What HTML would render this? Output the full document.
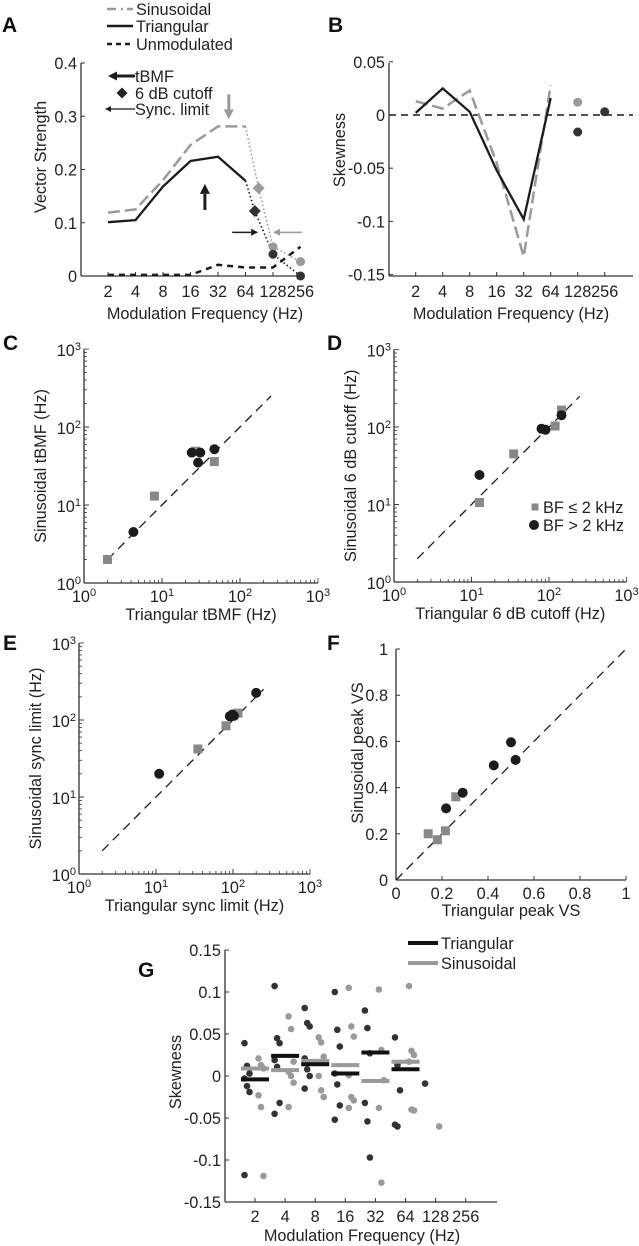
<!DOCTYPE html>
<html><head><meta charset="utf-8"><style>
html,body{margin:0;padding:0;background:#fff;}
svg{display:block;font-family:"Liberation Sans",Arial,sans-serif;}
</style></head><body>
<svg id="fig" width="639" height="1246" viewBox="0 0 639 1246" xmlns="http://www.w3.org/2000/svg"></svg>
<script>
// ---------- Panel A data ----------
const freqsA = [2,4,8,16,32,64,128,256];
const triVS = [0.101,0.105,0.168,0.216,0.224,0.179];
const sinVS = [0.119,0.125,0.180,0.246,0.281,0.281];
const unmodVS = [0.002,0.002,0.002,0.002,0.021,0.016,0.016,0.055];
const triTail = [[64,0.179],[81,0.122],[128,0.041],[256,0.0]];
const sinTail = [[64,0.281],[89,0.165],[128,0.055],[256,0.027]];
const triTBMF = [23,0.218];
const sinTBMF = [42,0.281];
const triSync = 88, sinSync = 128, syncVS = 0.082;
const yTicksA = [0,0.1,0.2,0.3,0.4];
const yTickLabelsA = ['0','0.1','0.2','0.3','0.4'];
const xTickLabels = ['2','4','8','16','32','64','128','256'];
// ---------- Panel B data ----------
const triSkew = [0.002,0.025,0.003,-0.052,-0.098,0.016];
const sinSkew = [0.013,0.006,0.023,-0.045,-0.133,0.028];
const extraSkewF = [128,128,256];
const extraSkewV = [0.012,-0.016,0.003];
const extraSkewGray = [true,false,false];
const yTicksB = [0.05,0,-0.05,-0.1,-0.15];
const yTickLabelsB = ['0.05','0','-0.05','-0.1','-0.15'];
// ---------- Panel C data ----------
const cSqX = [2,8,27,47], cSqY = [2,13,49,36];
const cCiX = [4.3,24,31,29,47], cCiY = [4.5,47,47,35,52];
// ---------- Panel D data ----------
const dSqX = [12.7,35,120,145], dSqY = [10.6,45,103,165];
const dCiX = [12.7,80,90,145], dCiY = [24,95,92,142];
// ---------- Panel E data ----------
const eSqX = [35,81,116], eSqY = [42,84,123];
const eCiX = [11,91,103,98,200], eCiY = [20,112,113,118,225];
// ---------- Panel F data ----------
const fSqX = [0.14,0.18,0.215,0.26], fSqY = [0.20,0.174,0.213,0.36];
const fCiX = [0.218,0.29,0.425,0.50,0.52], fCiY = [0.31,0.378,0.496,0.596,0.52];
const fTicks = [0,0.2,0.4,0.6,0.8,1];
const fTickLabels = ['0','0.2','0.4','0.6','0.8','1'];
// ---------- Panel G data ----------
const gTri = [
 [0.039,0.012,0.003,-0.003,-0.012,-0.019,-0.118],
 [0.107,0.045,0.039,0.019,0.011,-0.032,-0.045],
 [0.081,0.063,0.059,0.021,0.008,0,-0.015],
 [0.1,0.055,0.035,0.003,-0.01,-0.035,-0.052],
 [0.078,0.057,0.027,-0.032,-0.054,-0.097],
 [0.046,0.013,-0.017,-0.058,-0.06],
 [-0.009],
 []
];
const gSin = [
 [0.021,0.013,0.009,-0.023,-0.037,-0.119],
 [0.071,0.056,0.017,0.005,0,-0.008,-0.037],
 [0.046,0.04,0.023,0,-0.017,-0.025],
 [0.105,0.059,0.047,0.001,-0.025,-0.029,-0.038],
 [0.103,0.031,-0.005,-0.038,-0.127],
 [0.107,0.03,0.025,0.017,-0.04,-0.041],
 [-0.06],
 []
];
const gTriMed = [-0.004,0.024,0.014,0.003,0.028,0.008];
const gSinMed = [0.009,0.007,0.018,0.013,-0.006,0.017];
const yTicksG = [0.15,0.1,0.05,0,-0.05,-0.1,-0.15];
const yTickLabelsG = ['0.15','0.1','0.05','0','-0.05','-0.1','-0.15'];

const NS='http://www.w3.org/2000/svg';
const svg=document.getElementById('fig');
const AX='#333', BLK='#1c1c1c', GRY='#9a9a9a', SQ='#888';
const FS=16.3;
function mk(t){return document.createElementNS(NS,t);}
function line(x1,y1,x2,y2,stroke,w,dash,name){
 const e=mk('line');
 e.setAttribute('x1',x1);e.setAttribute('y1',y1);e.setAttribute('x2',x2);e.setAttribute('y2',y2);
 e.setAttribute('stroke',stroke);e.setAttribute('stroke-width',w);
 if(dash)e.setAttribute('stroke-dasharray',dash);
 
 
 svg.appendChild(e);return e;}
function poly(pts,stroke,w,dash,name){
 const e=mk('polyline');
 e.setAttribute('points',pts.map(p=>p[0].toFixed(1)+','+p[1].toFixed(1)).join(' '));
 e.setAttribute('fill','none');e.setAttribute('stroke',stroke);e.setAttribute('stroke-width',w);
 e.setAttribute('stroke-linejoin','miter');
 if(dash)e.setAttribute('stroke-dasharray',dash);
 
 
 svg.appendChild(e);return e;}
function text(x,y,s,size,anchor,name,opts){
 opts=opts||{};
 const e=mk('text');
 e.setAttribute('x',x);e.setAttribute('y',y);e.setAttribute('font-size',size);
 e.setAttribute('text-anchor',anchor);e.setAttribute('fill',opts.fill||'#222');
 if(opts.bold)e.setAttribute('font-weight','bold');
 if(opts.rot)e.setAttribute('transform','rotate(-90 '+x+' '+y+')');
 if(opts.sup){e.textContent=s;const t=mk('tspan');t.setAttribute('font-size',size*0.68);t.setAttribute('dy',-6);t.textContent=opts.sup;e.appendChild(t);}
 else e.textContent=s;
 
 
 svg.appendChild(e);return e;}
function circ(x,y,r,fill,name){
 const e=mk('circle');e.setAttribute('cx',x.toFixed(1));e.setAttribute('cy',y.toFixed(1));e.setAttribute('r',r);e.setAttribute('fill',fill);
 
 
 svg.appendChild(e);return e;}
function square(x,y,s,fill,name){
 const e=mk('rect');e.setAttribute('x',(x-s/2).toFixed(1));e.setAttribute('y',(y-s/2).toFixed(1));e.setAttribute('width',s);e.setAttribute('height',s);e.setAttribute('fill',fill);
 
 
 svg.appendChild(e);return e;}
function diamond(x,y,s,fill,name){
 const e=mk('polygon');
 e.setAttribute('points',[[x,y-s],[x+s,y],[x,y+s],[x-s,y]].map(p=>p[0].toFixed(1)+','+p[1].toFixed(1)).join(' '));
 e.setAttribute('fill',fill);
 
 
 svg.appendChild(e);return e;}
function arrow(x1,y1,x2,y2,color,w,head,name){
 const ang=Math.atan2(y2-y1,x2-x1);
 const bx=x2-head*Math.cos(ang), by=y2-head*Math.sin(ang);
 line(x1,y1,bx,by,color,w,null,name+'-shaft');
 const e=mk('polygon');
 const hw=head*0.5;
 const pts=[[x2,y2],[bx-hw*Math.sin(ang),by+hw*Math.cos(ang)],[bx+hw*Math.sin(ang),by-hw*Math.cos(ang)]];
 e.setAttribute('points',pts.map(p=>p[0].toFixed(1)+','+p[1].toFixed(1)).join(' '));
 e.setAttribute('fill',color);
 
 
 svg.appendChild(e);}

// ===== Panel A =====
const axA={x0:81,x1:303,y0:276,y1:63};
const xA=f=>108+27.5*Math.log2(f/2);
const yA=v=>276-v*(213/0.4);
text(2,32,'A',21,'start','panel-a-label',{bold:true,fill:'#111'});
line(axA.x0,axA.y0,axA.x1,axA.y0,AX,1.3,null,'a-x-axis');
line(axA.x0,axA.y0,axA.x0,axA.y1,AX,1.3,null,'a-y-axis');
yTicksA.forEach((v,i)=>{line(axA.x0,yA(v),axA.x0+4,yA(v),AX,1,null,'a-y-tick');text(77,yA(v)+6,yTickLabelsA[i],FS,'end','a-y-tick-label');});
freqsA.forEach((f,i)=>{line(xA(f),axA.y0,xA(f),axA.y0-4,AX,1,null,'a-x-tick');text(xA(f),297,xTickLabels[i],FS,'middle','a-x-tick-label');});
text(46,157,'Vector Strength',FS,'middle','a-y-axis-title',{rot:true});
text(205,319,'Modulation Frequency (Hz)',FS,'middle','a-x-axis-title');
poly(unmodVS.map((v,i)=>[xA(freqsA[i]),yA(v)]),BLK,2.5,'6,5','unmodulated-line');
poly(sinTail.map(p=>[xA(p[0]),yA(p[1])]),GRY,1.6,'1.5,2.5','sinusoidal-cutoff-dotted');
poly(triTail.map(p=>[xA(p[0]),yA(p[1])]),BLK,1.6,'1.5,2.5','triangular-cutoff-dotted');
poly(sinVS.map((v,i)=>[xA(freqsA[i]),yA(v)]),GRY,2.5,'12,5','sinusoidal-line');
poly(triVS.map((v,i)=>[xA(freqsA[i]),yA(v)]),BLK,2.3,null,'triangular-line');
diamond(xA(sinTail[1][0]),yA(sinTail[1][1]),6,GRY,'sinusoidal-6db-cutoff');
diamond(xA(triTail[1][0]),yA(triTail[1][1]),6,'#333','triangular-6db-cutoff');
circ(xA(sinTail[2][0]),yA(sinTail[2][1]),4.5,GRY,'sinusoidal-point-128');
circ(xA(sinTail[3][0]),yA(sinTail[3][1]),4.5,GRY,'sinusoidal-point-256');
circ(xA(triTail[2][0]),yA(triTail[2][1]),4.5,'#333','triangular-point-128');
circ(xA(triTail[3][0]),yA(triTail[3][1]),4.5,'#333','triangular-point-256');
arrow(xA(triTBMF[0]),yA(triTBMF[1])+50,xA(triTBMF[0]),yA(triTBMF[1])+24,BLK,3,10,'triangular-tbmf-arrow');
arrow(xA(sinTBMF[0]),yA(sinTBMF[1])-32,xA(sinTBMF[0]),yA(sinTBMF[1])-7,GRY,3,10,'sinusoidal-tbmf-arrow');
arrow(xA(triSync)-26,yA(syncVS),xA(triSync),yA(syncVS),BLK,1.5,7,'triangular-sync-arrow');
arrow(xA(sinSync)+29,yA(syncVS),xA(sinSync),yA(syncVS),GRY,1.5,7,'sinusoidal-sync-arrow');
// legend
line(107,9,133,9,GRY,2.5,'9,5,2,4','legend-sinusoidal-line');
text(136,15,'Sinusoidal',FS,'start','legend-sinusoidal-text');
line(107,26,133,26,BLK,2.5,null,'legend-triangular-line');
text(136,32,'Triangular',FS,'start','legend-triangular-text');
line(107,44,133,44,BLK,2.5,'5,4','legend-unmodulated-line');
text(136,50,'Unmodulated',FS,'start','legend-unmodulated-text');
arrow(135,76,108,76,BLK,3,9,'legend-tbmf-arrow');
text(135,82,'tBMF',FS,'start','legend-tbmf-text');
diamond(122,93,5.5,'#222','legend-cutoff-diamond');
text(135,99,'6 dB cutoff',FS,'start','legend-cutoff-text');
arrow(135,109,105,109,BLK,1.2,6,'legend-sync-arrow');
text(135,115,'Sync. limit',FS,'start','legend-sync-text');

// ===== Panel B =====
const xB=f=>415.7+27*Math.log2(f/2);
const yB=v=>115-v*(53.2/0.05);
text(328,32,'B',21,'start','panel-b-label',{bold:true,fill:'#111'});
line(389,276,633,276,AX,1.3,null,'b-x-axis');
line(389,276,389,63,AX,1.3,null,'b-y-axis');
yTicksB.forEach((v,i)=>{line(389,yB(v),393,yB(v),AX,1,null,'b-y-tick');text(385,yB(v)+6,yTickLabelsB[i],FS,'end','b-y-tick-label');});
freqsA.forEach((f,i)=>{line(xB(f),276,xB(f),272,AX,1,null,'b-x-tick');text(xB(f),297,xTickLabels[i],FS,'middle','b-x-tick-label');});
text(345,150,'Skewness',FS,'middle','b-y-axis-title',{rot:true});
text(511,319,'Modulation Frequency (Hz)',FS,'middle','b-x-axis-title');
line(389,yB(0),633,yB(0),BLK,1.5,'7,5','b-zero-line');
poly(sinSkew.map((v,i)=>[xB(freqsA[i]),yB(v)]),GRY,2.5,'12,5','b-sinusoidal-line');
poly(triSkew.map((v,i)=>[xB(freqsA[i]),yB(v)]),BLK,2.3,null,'b-triangular-line');
extraSkewF.forEach((f,i)=>circ(xB(f),yB(extraSkewV[i]),4.5,extraSkewGray[i]?GRY:'#333','b-extra-point'));

// ===== log scatter helper =====
function logPanel(o){
 const lx=v=>o.x0+o.dec*Math.log10(v), ly=v=>o.y0-o.dec*Math.log10(v);
 line(o.x0,o.y0,o.x0+3*o.dec,o.y0,AX,1.3,null,o.p+'-x-axis');
 line(o.x0,o.y0,o.x0,o.y0-3*o.dec,AX,1.3,null,o.p+'-y-axis');
 for(let d=0;d<3;d++)for(let m=1;m<=10;m++){
  const v=m*Math.pow(10,d);const L=(m===1||m===10)?5:3;
  line(lx(v),o.y0,lx(v),o.y0-L,AX,0.8,null,o.p+'-x-tick');
  line(o.x0,ly(v),o.x0+L,ly(v),AX,0.8,null,o.p+'-y-tick');}
 for(let d=0;d<=3;d++){
  text(lx(Math.pow(10,d)),o.y0+19,'10',FS,'middle',o.p+'-x-tick-label',{sup:String(d)});
  text(o.x0-3,ly(Math.pow(10,d))+7,'10',FS,'end',o.p+'-y-tick-label',{sup:String(d)});}
 line(lx(2),ly(2),lx(250),ly(250),BLK,1.3,'9,6',o.p+'-unity-line');
 o.sx.forEach((v,i)=>square(lx(v),ly(o.sy[i]),9,SQ,o.p+'-bf-low-point'));
 o.cx.forEach((v,i)=>circ(lx(v),ly(o.cy[i]),5,BLK,o.p+'-bf-high-point'));
 text(o.x0-38,(o.y0-1.5*o.dec),o.yl,FS,'middle',o.p+'-y-axis-title',{rot:true});
 text(o.x0+1.5*o.dec,o.y0+37,o.xl,FS,'middle',o.p+'-x-axis-title');
}
text(3,350,'C',21,'start','panel-c-label',{bold:true,fill:'#111'});
logPanel({p:'c',x0:84,y0:583,dec:78,sx:cSqX,sy:cSqY,cx:cCiX,cy:cCiY,yl:'Sinusoidal tBMF (Hz)',xl:'Triangular tBMF (Hz)'});
text(327,350,'D',21,'start','panel-d-label',{bold:true,fill:'#111'});
logPanel({p:'d',x0:394,y0:582,dec:77.5,sx:dSqX,sy:dSqY,cx:dCiX,cy:dCiY,yl:'Sinusoidal 6 dB cutoff (Hz)',xl:'Triangular 6 dB cutoff (Hz)'});
square(535,507,7,SQ,'legend-bf-low-marker');
text(543,513,'BF \u2264 2 kHz',FS,'start','legend-bf-low-text');
circ(534,525,5,BLK,'legend-bf-high-marker');
text(543,531,'BF > 2 kHz',FS,'start','legend-bf-high-text');
text(3,650,'E',21,'start','panel-e-label',{bold:true,fill:'#111'});
logPanel({p:'e',x0:79,y0:874,dec:77,sx:eSqX,sy:eSqY,cx:eCiX,cy:eCiY,yl:'Sinusoidal sync limit (Hz)',xl:'Triangular sync limit (Hz)'});

// ===== Panel F =====
const xF=v=>396+v*230, yF=v=>880-v*231;
text(327,650,'F',21,'start','panel-f-label',{bold:true,fill:'#111'});
line(396,880,626,880,AX,1.3,null,'f-x-axis');
line(396,880,396,649,AX,1.3,null,'f-y-axis');
fTicks.forEach((v,i)=>{
 line(xF(v),880,xF(v),876,AX,1,null,'f-x-tick');text(xF(v),899,fTickLabels[i],FS,'middle','f-x-tick-label');
 line(396,yF(v),400,yF(v),AX,1,null,'f-y-tick');text(388,yF(v)+6,fTickLabels[i],FS,'end','f-y-tick-label');});
line(xF(0),yF(0),xF(1),yF(1),BLK,1.3,'9,6','f-unity-line');
fSqX.forEach((v,i)=>square(xF(v),yF(fSqY[i]),9,SQ,'f-bf-low-point'));
fCiX.forEach((v,i)=>circ(xF(v),yF(fCiY[i]),5,BLK,'f-bf-high-point'));
text(363,753,'Sinusoidal peak VS',FS,'middle','f-y-axis-title',{rot:true});
text(511,916,'Triangular peak VS',FS,'middle','f-x-axis-title');

// ===== Panel G =====
const xG=f=>255+30.1*Math.log2(f/2), yG=v=>1076-v*(42/0.05);
text(138,977,'G',21,'start','panel-g-label',{bold:true,fill:'#111'});
line(225,1202,497,1202,AX,1.3,null,'g-x-axis');
line(225,1202,225,950,AX,1.3,null,'g-y-axis');
yTicksG.forEach((v,i)=>{line(225,yG(v),229,yG(v),AX,1,null,'g-y-tick');text(221,yG(v)+6,yTickLabelsG[i],FS,'end','g-y-tick-label');});
freqsA.forEach((f,i)=>{line(xG(f),1202,xG(f),1198,AX,1,null,'g-x-tick');text(xG(f),1222,xTickLabels[i],FS,'middle','g-x-tick-label');});
text(181,1072,'Skewness',FS,'middle','g-y-axis-title',{rot:true});
text(362,1241,'Modulation Frequency (Hz)',FS,'middle','g-x-axis-title');
gTri.forEach((arr,g)=>arr.forEach((v,k)=>circ(xG(freqsA[g])-8+((k%3)-1)*2.5,yG(v),3.3,'#333','g-triangular-point')));
gSin.forEach((arr,g)=>arr.forEach((v,k)=>circ(xG(freqsA[g])+6+((k%3)-1)*2.5,yG(v),3.3,GRY,'g-sinusoidal-point')));
gSinMed.forEach((v,g)=>line(xG(freqsA[g])-14,yG(v),xG(freqsA[g])+14,yG(v),GRY,4,null,'g-sinusoidal-median'));
gTriMed.forEach((v,g)=>line(xG(freqsA[g])-14,yG(v),xG(freqsA[g])+14,yG(v),'#111',4,null,'g-triangular-median'));
line(408,943,438,943,'#111',4,null,'g-legend-triangular-line');
text(441,949,'Triangular',FS,'start','g-legend-triangular-text');
line(408,963,438,963,GRY,4,null,'g-legend-sinusoidal-line');
text(441,969,'Sinusoidal',FS,'start','g-legend-sinusoidal-text');
</script>
</body></html>
